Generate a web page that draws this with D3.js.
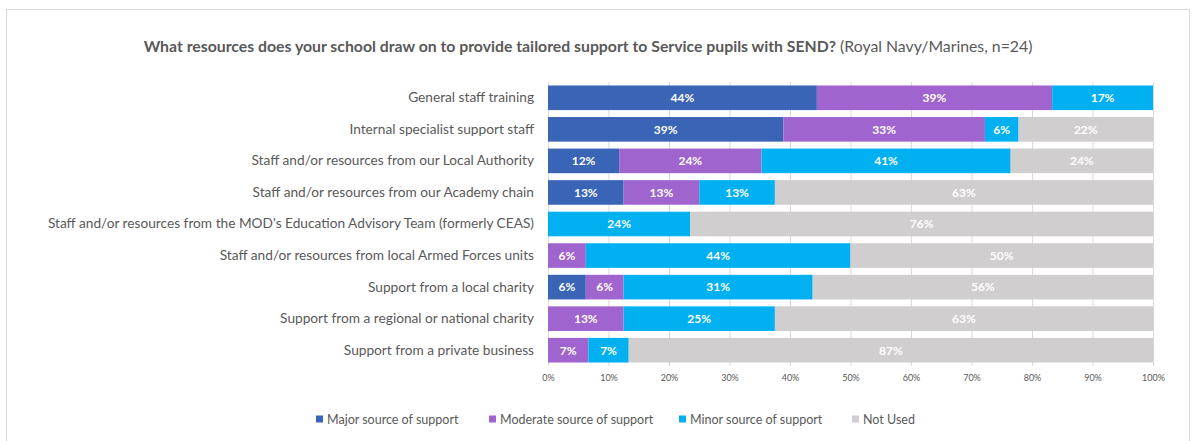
<!DOCTYPE html>
<html>
<head>
<meta charset="utf-8">
<script src="https://cdn.jsdelivr.net/npm/d3@7"></script>
<style>
  html, body { margin: 0; padding: 0; background: #fff; }
  svg { display: block; font-family: Lato, "Open Sans", sans-serif; }
</style>
</head>
<body>
<svg id="chart" width="1195" height="441"></svg>
<script>
// Resources used for tailored SEND support, Royal Navy/Marines (n=24)
// Shares are in percent of respondents for each item; labels show them rounded.
const categories = [
  "General staff training",
  "Internal specialist support staff",
  "Staff and/or resources from our Local Authority",
  "Staff and/or resources from our Academy chain",
  "Staff and/or resources from the MOD's Education Advisory Team (formerly CEAS)",
  "Staff and/or resources from local Armed Forces units",
  "Support from a local charity",
  "Support from a regional or national charity",
  "Support from a private business"
];
const seriesNames = ["Major source of support", "Moderate source of support", "Minor source of support", "Not Used"];
const major    = [44.44, 38.89, 11.76, 12.5, 0, 0, 6.25, 0, 0];
const moderate = [38.89, 33.33, 23.53, 12.5, 0, 6.25, 6.25, 12.5, 6.67];
const minor    = [16.67, 5.56, 41.18, 12.5, 23.53, 43.75, 31.25, 25, 6.67];
const notUsed  = [0, 22.22, 23.53, 62.5, 76.47, 50, 56.25, 62.5, 86.66];
const tickValues = [0, 10, 20, 30, 40, 50, 60, 70, 80, 90, 100];
const colors = ["#3A64B6", "#A064CF", "#00B0F0", "#D0CECE"];

const svg = d3.select("#chart");
const textColor = "#595959";

// Outer chart frame
svg.append("rect")
  .attr("x", 6.5).attr("y", 9.5)
  .attr("width", 1183).attr("height", 440)
  .attr("fill", "#fff").attr("stroke", "#d9d9d9").attr("stroke-width", 1);

// Title
const title = svg.append("text")
  .attr("x", 588).attr("y", 52)
  .attr("text-anchor", "middle")
  .attr("font-size", 15.8)
  .attr("fill", textColor);
title.append("tspan").attr("font-weight", "bold")
  .text("What resources does your school draw on to provide tailored support to Service pupils with SEND?");
title.append("tspan").text(" (Royal Navy/Marines, n=24)");

const plot = { left: 548, right: 1153, top: 82, bottom: 366 };

const x = d3.scaleLinear().domain([0, 100]).range([plot.left, plot.right]);
const y = d3.scaleBand().domain(categories).range([plot.top, plot.bottom]).paddingInner(0.22).paddingOuter(0.11);

// Vertical gridlines
svg.append("g").selectAll("line").data(tickValues).join("line")
  .attr("x1", d => x(d) + 0.5).attr("x2", d => x(d) + 0.5)
  .attr("y1", plot.top).attr("y2", plot.bottom)
  .attr("stroke", "#d9d9d9").attr("stroke-width", 1);

// Stack the series
const rows = categories.map((c, i) => ({
  cat: c, s0: major[i], s1: moderate[i], s2: minor[i], s3: notUsed[i]
}));
const stack = d3.stack().keys(["s0", "s1", "s2", "s3"]);
const layers = stack(rows);

svg.append("clipPath").attr("id", "plotClip")
  .append("rect").attr("x", plot.left).attr("y", plot.top)
  .attr("width", plot.right - plot.left).attr("height", plot.bottom - plot.top);

const barsG = svg.append("g").attr("clip-path", "url(#plotClip)");
layers.forEach((layer, k) => {
  const g = barsG.append("g");
  g.selectAll("rect").data(layer.filter(d => d[1] - d[0] > 0)).join("rect")
    .attr("x", d => x(d[0]))
    .attr("y", d => y(d.data.cat))
    .attr("width", d => x(Math.min(d[1], 100)) - x(d[0]))
    .attr("height", y.bandwidth())
    .attr("fill", colors[k]);
});

// Value labels
layers.forEach((layer, k) => {
  svg.append("g").selectAll("text").data(layer.filter(d => d[1] - d[0] > 0)).join("text")
    .attr("x", d => (x(d[0]) + x(Math.min(d[1], 100))) / 2)
    .attr("y", d => y(d.data.cat) + y.bandwidth() / 2)
    .attr("dy", "0.36em")
    .attr("text-anchor", "middle")
    .attr("font-size", 12)
    .attr("font-weight", "bold")
    .attr("fill", "#fff")
    .text(d => Math.round(d[1] - d[0]) + "%");
});

// Category labels
const yAxis = d3.axisLeft(y).tickSize(0).tickPadding(14);
const yg = svg.append("g").attr("transform", `translate(${plot.left},0)`).call(yAxis);
yg.select(".domain").remove();
yg.selectAll("text").attr("font-size", 13.7).attr("fill", textColor)
  .attr("font-family", "Lato, 'Open Sans', sans-serif");

// Percentage axis
const xAxis = d3.axisBottom(x).tickValues(tickValues).tickSize(0).tickPadding(9).tickFormat(d => d + "%");
const xg = svg.append("g").attr("transform", `translate(0,${plot.bottom})`).call(xAxis);
xg.select(".domain").remove();
xg.selectAll("text").attr("font-size", 9).attr("fill", textColor)
  .attr("font-family", "Lato, 'Open Sans', sans-serif");

// Legend
const legendX = [316, 489, 679, 852];
const legend = svg.append("g");
seriesNames.forEach((name, i) => {
  legend.append("rect")
    .attr("x", legendX[i]).attr("y", 415.5)
    .attr("width", 7).attr("height", 7)
    .attr("fill", colors[i]);
  legend.append("text")
    .attr("x", legendX[i] + 11).attr("y", 423.5)
    .attr("font-size", 12.5).attr("fill", textColor)
    .text(name);
});
</script>
</body>
</html>
